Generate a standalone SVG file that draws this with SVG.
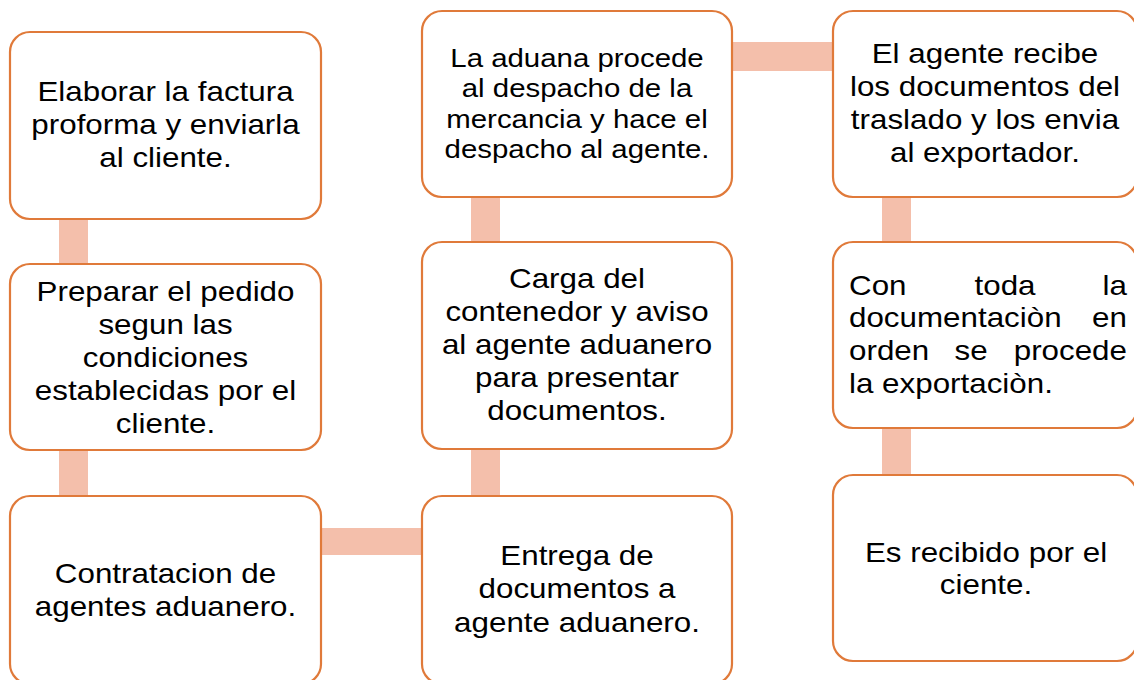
<svg xmlns="http://www.w3.org/2000/svg" width="1134" height="680" viewBox="0 0 1134 680">
<style>
.box{fill:#ffffff;stroke:#E07A3A;stroke-width:2.2}
.con{fill:#F4BFAB}
text{font-family:"Liberation Sans",Arial,sans-serif;font-size:28px;fill:#000000}
.m{text-anchor:middle}
.s{text-anchor:start}
.e{text-anchor:end}
</style>
<rect width="1134" height="680" fill="#ffffff"/>
<g id="connectors">
<rect class="con" x="59" y="218" width="29" height="48"/>
<rect class="con" x="59" y="449" width="29" height="49"/>
<rect class="con" x="320" y="528" width="103" height="27"/>
<rect class="con" x="471" y="447" width="29" height="51"/>
<rect class="con" x="471" y="196" width="29" height="48"/>
<rect class="con" x="731" y="42" width="103" height="29"/>
<rect class="con" x="882" y="196" width="29" height="48"/>
<rect class="con" x="882" y="427" width="29" height="50"/>
</g>
<g id="n1">
<rect class="box" x="10" y="32" width="311" height="187" rx="20"/>
<g transform="translate(165.5 0) scale(1.12 1)">
<text class="m" x="0" y="101">Elaborar la factura</text>
<text class="m" x="0" y="134">proforma y enviarla</text>
<text class="m" x="0" y="167">al cliente.</text>
</g>
</g>
<g id="n2">
<rect class="box" x="10" y="264" width="311" height="186" rx="20"/>
<g transform="translate(165.5 0) scale(1.12 1)">
<text class="m" x="0" y="301">Preparar el pedido</text>
<text class="m" x="0" y="334">segun las</text>
<text class="m" x="0" y="367">condiciones</text>
<text class="m" x="0" y="400">establecidas por el</text>
<text class="m" x="0" y="433">cliente.</text>
</g>
</g>
<g id="n3">
<rect class="box" x="10" y="496" width="311" height="188" rx="20"/>
<g transform="translate(165.5 0) scale(1.12 1)">
<text class="m" x="0" y="583">Contratacion de</text>
<text class="m" x="0" y="616">agentes aduanero.</text>
</g>
</g>
<g id="n4">
<rect class="box" x="422" y="496" width="310" height="188" rx="20"/>
<g transform="translate(577 0) scale(1.12 1)">
<text class="m" x="0" y="565">Entrega de</text>
<text class="m" x="0" y="598">documentos a</text>
<text class="m" x="0" y="632">agente aduanero.</text>
</g>
</g>
<g id="n5">
<rect class="box" x="422" y="242" width="310" height="207" rx="20"/>
<g transform="translate(577 0) scale(1.12 1)">
<text class="m" x="0" y="288">Carga del</text>
<text class="m" x="0" y="321">contenedor y aviso</text>
<text class="m" x="0" y="354">al agente aduanero</text>
<text class="m" x="0" y="387">para presentar</text>
<text class="m" x="0" y="420">documentos.</text>
</g>
</g>
<g id="n6">
<rect class="box" x="422" y="11" width="310" height="186" rx="20"/>
<g transform="translate(577 0) scale(1.11 1)">
<text class="m" x="0" y="67" style="font-size:26.5px">La aduana procede</text>
<text class="m" x="0" y="97" style="font-size:26.5px">al despacho de la</text>
<text class="m" x="0" y="128" style="font-size:26.5px">mercancia y hace el</text>
<text class="m" x="0" y="158" style="font-size:26.5px">despacho al agente.</text>
</g>
</g>
<g id="n7">
<rect class="box" x="833" y="11" width="304" height="186" rx="20"/>
<g transform="translate(985 0) scale(1.12 1)">
<text class="m" x="0" y="63">El agente recibe</text>
<text class="m" x="0" y="96">los documentos del</text>
<text class="m" x="0" y="129">traslado y los envia</text>
<text class="m" x="0" y="162">al exportador.</text>
</g>
</g>
<g id="n8">
<rect class="box" x="833" y="242" width="304" height="186" rx="20"/>
<text class="s" transform="translate(849 295) scale(1.12 1)">Con</text>
<text class="m" transform="translate(1005 295) scale(1.12 1)">toda</text>
<text class="e" transform="translate(1127 295) scale(1.12 1)">la</text>
<text class="s" transform="translate(849 327) scale(1.12 1)">documentaciòn</text>
<text class="e" transform="translate(1127 327) scale(1.12 1)">en</text>
<text class="s" transform="translate(849 360) scale(1.12 1)">orden</text>
<text class="m" transform="translate(971 360) scale(1.12 1)">se</text>
<text class="e" transform="translate(1127 360) scale(1.12 1)">procede</text>
<text class="s" transform="translate(849 393) scale(1.12 1)">la exportaciòn.</text>
</g>
<g id="n9">
<rect class="box" x="833" y="475" width="304" height="186" rx="20"/>
<g transform="translate(986 0) scale(1.12 1)">
<text class="m" x="0" y="562">Es recibido por el</text>
<text class="m" x="0" y="594">ciente.</text>
</g>
</g>
</svg>
